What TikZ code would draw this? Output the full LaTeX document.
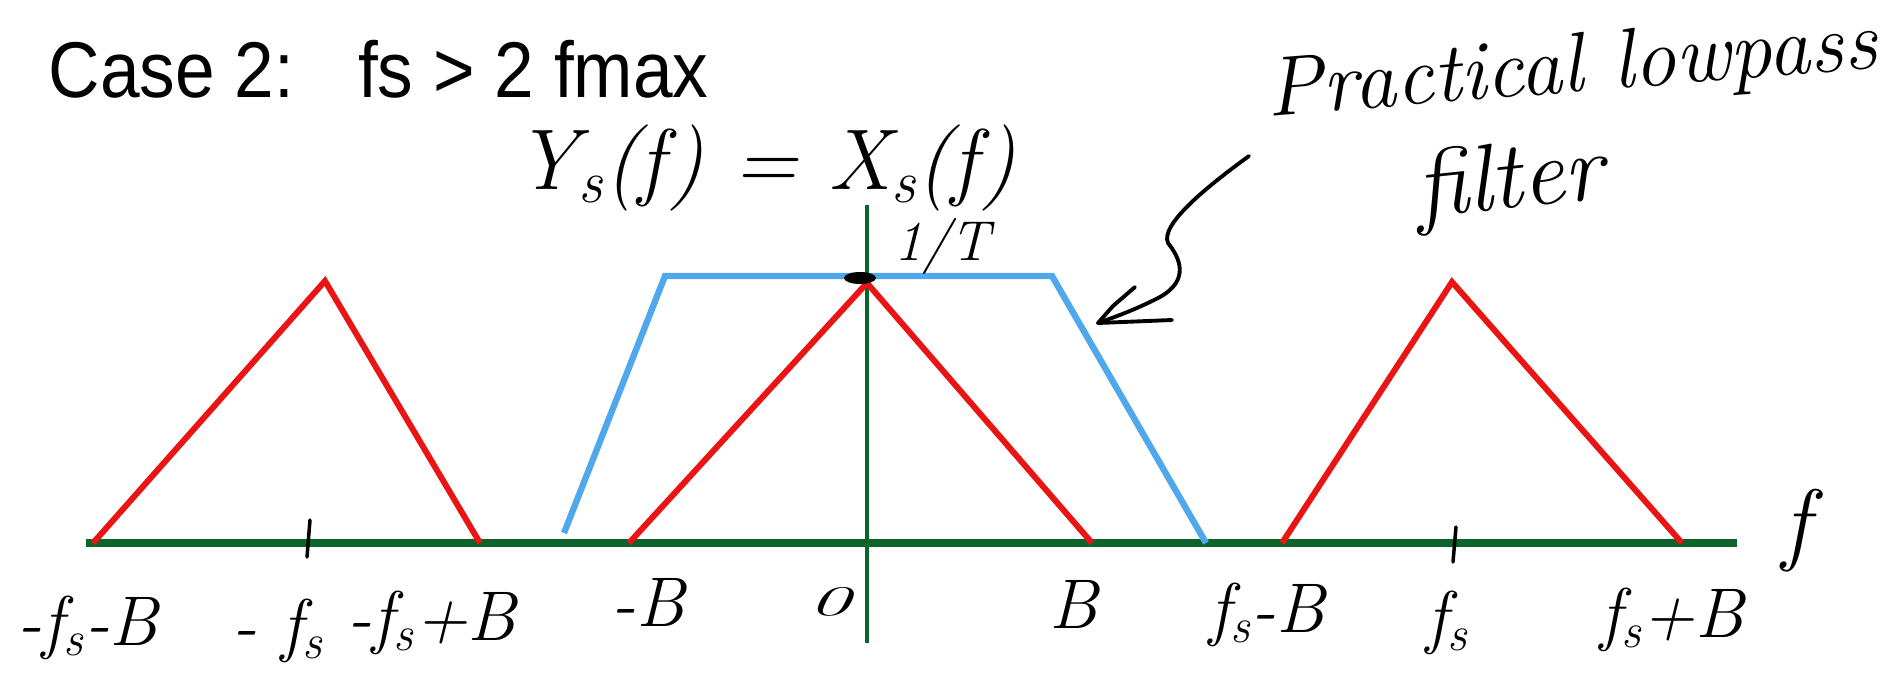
\documentclass[tikz,border=0pt]{standalone}
\usepackage{fontspec}
\newfontfamily\titlefont{Liberation Sans}
\definecolor{axisgreen}{RGB}{12,100,42}
\definecolor{specred}{RGB}{235,20,20}
\definecolor{filterblue}{RGB}{80,168,236}
\newcommand{\sbs}[1]{\textsubscript{#1}}
\tikzset{
  axisline/.style={draw=axisgreen},
  spectrum/.style={draw=specred, line width=1.7pt, line join=miter},
  filterline/.style={draw=filterblue, line width=1.8pt, line join=miter},
  tickmark/.style={draw=black, line width=1pt, line cap=round},
  hand/.style={draw=black, line width=1.1pt, line cap=round, line join=round},
  axlabel/.style={inner sep=0pt, anchor=base, font=\fontsize{20}{22}\selectfont\itshape},
  handtext/.style={inner sep=0pt, anchor=base, font=\fontsize{24}{27}\selectfont\itshape},
}
\begin{document}
\begin{tikzpicture}[x=0.01cm,y=-0.01cm]
\useasboundingbox (0,0) rectangle (1902,672);
% title
\node[inner sep=0pt, anchor=base west] (title) at (48,97)
  {\titlefont\fontsize{22.5}{26}\selectfont\scalebox{0.9}[1]{Case 2:\hspace{0.9em}fs > 2 fmax}};
% axes
\coordinate (hl) at (86,543);
\coordinate (hr) at (1737,543);
\coordinate (vt) at (867,205);
\coordinate (vb) at (867,643);
\draw[axisline, line width=2.4pt] (hl) -- (hr);
\draw[axisline, line width=1.3pt] (vt) -- (vb);
% triangles
\coordinate (l1) at (93,543); \coordinate (lp) at (325,281); \coordinate (l2) at (480,543);
\coordinate (c1) at (629,543); \coordinate (cp) at (867,283); \coordinate (c2) at (1092,543);
\coordinate (r1) at (1282,543); \coordinate (rp) at (1452,282); \coordinate (r2) at (1682,543);
\draw[spectrum] (l1) -- (lp) -- (l2);
\draw[spectrum] (c1) -- (cp) -- (c2);
\draw[spectrum] (r1) -- (rp) -- (r2);
% filter
\coordinate (f1) at (564,533); \coordinate (f2) at (665,276);
\coordinate (f3) at (1052,276); \coordinate (f4) at (1206,543);
\draw[filterline] (f1) -- (f2) -- (f3) -- (f4);
% peak dot
\fill[black] (860,278) ellipse [x radius=16, y radius=6];
% ticks
\coordinate (t1a) at (310,520); \coordinate (t1b) at (307,557);
\coordinate (t2a) at (1456,527); \coordinate (t2b) at (1453,562);
\draw[tickmark] (t1a) -- (t1b);
\draw[tickmark] (t2a) -- (t2b);
% axis labels
\node[axlabel] (lab1) at (88,645) {-f\sbs{s}-B};
\node[axlabel] (lab2) at (278,648) {- f\sbs{s}};
\node[axlabel] (lab3) at (432,640) {-f\sbs{s}+B};
\node[axlabel] (lab4) at (648,626) {-B};
\node[axlabel, font=\fontsize{16}{18}\selectfont\itshape] (lab5) at (830,615) {\scalebox{1.5}[0.75]{0}};
\node[axlabel] (lab6) at (1074,628) {B};
\node[axlabel] (lab7) at (1267,632) {f\sbs{s}-B};
\node[axlabel] (lab8) at (1448,640) {f\sbs{s}};
\node[axlabel] (lab9) at (1672,637) {f\sbs{s}+B};
\node[axlabel, font=\fontsize{26}{28}\selectfont\itshape] (flab) at (1796,553) {f};
% top labels
\node[inner sep=0pt, anchor=base, font=\fontsize{24.5}{26}\selectfont\itshape] (ys) at (766,189) {Y\sbs{s}(f) = X\sbs{s}(f)};
\node[inner sep=0pt, anchor=base, font=\fontsize{16}{18}\selectfont\itshape] (oneT) at (942,260) {1/T};
\node[handtext, rotate=4.5] (prac) at (1574,92) {Practical lowpass};
\node[handtext, rotate=6, font=\fontsize{27}{30}\selectfont\itshape] (filt) at (1512,208) {filter};
% hand arrow
\coordinate (atail) at (1249,156);
\coordinate (atip) at (1098,323);
\coordinate (barbA) at (1135,287);
\coordinate (barbB) at (1172,320);
\draw[hand] (atail) .. controls (1205,188) and (1160,225) .. (1168,243)
  .. controls (1180,258) and (1190,280) .. (1160,297)
  .. controls (1135,310) and (1112,318) .. (atip);
\draw[hand] (barbA) -- (1113,306) -- (atip) -- (barbB);
\end{tikzpicture}
\end{document}
